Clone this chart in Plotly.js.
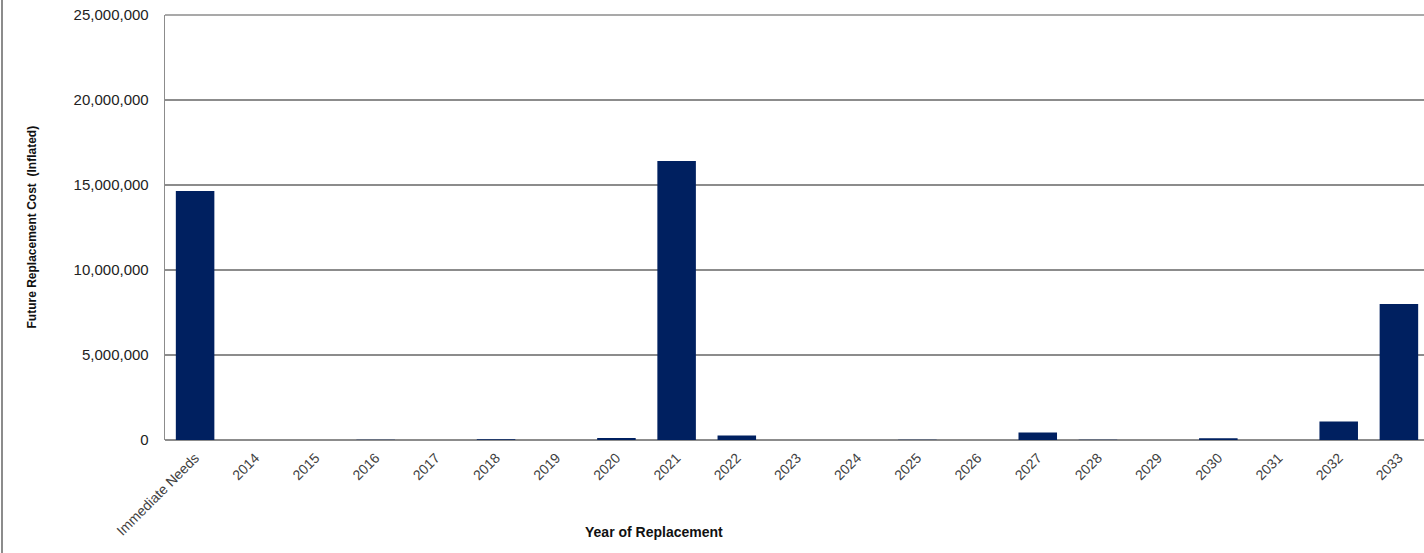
<!DOCTYPE html>
<html>
<head>
<meta charset="utf-8">
<script src="https://cdn.plot.ly/plotly-3.0.1.min.js"></script>
<style>
html,body{margin:0;padding:0;background:#fff;overflow:hidden;}
#chart{width:1430px;height:553px;}
</style>
</head>
<body>
<div id="chart"></div>
<script>
const categories = ["Immediate Needs","2014","2015","2016","2017","2018","2019","2020","2021","2022","2023","2024","2025","2026","2027","2028","2029","2030","2031","2032","2033"];
const costs = [14650000,0,0,20000,0,50000,0,120000,16410000,265000,0,0,20000,0,440000,20000,0,110000,0,1090000,8000000];
const yTicks = [0,5000000,10000000,15000000,20000000,25000000];
const yTickText = ["0","5,000,000","10,000,000","15,000,000","20,000,000","25,000,000"];

const trace = {
  type: "bar",
  x: categories,
  y: costs,
  marker: {color: "#002060"},
  hoverinfo: "x+y"
};

const layout = {
  width: 1430,
  height: 553,
  margin: {l: 165, r: 1, t: 15, b: 113},
  paper_bgcolor: "#ffffff",
  plot_bgcolor: "#ffffff",
  showlegend: false,
  bargap: 0.36,
  font: {family: "Liberation Sans, Arial, sans-serif", color: "#222"},
  xaxis: {
    type: "category",
    tickangle: -45,
    tickfont: {size: 14, color: "#404040"},
    ticklabelstandoff: 6,
    showgrid: false,
    showline: false,
    ticks: "",
    zeroline: false
  },
  yaxis: {
    range: [0, 25000000],
    tickvals: yTicks,
    ticktext: yTickText,
    tickfont: {size: 15, color: "#222"},
    showgrid: true,
    gridcolor: "#8c8c8c",
    gridwidth: 1.3,
    zeroline: true,
    zerolinecolor: "#8c8c8c",
    zerolinewidth: 1.5,
    showline: true,
    linecolor: "#8c8c8c",
    linewidth: 1.3,
    ticks: "",
    ticklabelstandoff: 12,
    title: {text: ""}
  },
  annotations: [
    {
      text: "<b>Future Replacement Cost  (Inflated)</b>",
      xref: "paper", yref: "paper",
      x: (31 - 165) / 1264, y: 0.5,
      xanchor: "center", yanchor: "middle",
      textangle: -90,
      showarrow: false,
      font: {size: 12, color: "#111", family: "Liberation Sans, Arial, sans-serif"}
    },
    {
      text: "<b>Year of Replacement</b>",
      xref: "paper", yref: "paper",
      x: (654 - 165) / 1264, y: -(532 - 440) / 425,
      xanchor: "center", yanchor: "middle",
      showarrow: false,
      font: {size: 14, color: "#111", family: "Liberation Sans, Arial, sans-serif"}
    }
  ],
  shapes: [
    {
      type: "line", xref: "paper", yref: "paper",
      x0: (2 - 165) / 1264, x1: (2 - 165) / 1264,
      y0: -113 / 425, y1: 1 + 15 / 425,
      line: {color: "#8c8c8c", width: 2}
    },
    {
      type: "line", xref: "paper", yref: "paper",
      x0: 0, x1: 1, y0: 1, y1: 1,
      line: {color: "#8c8c8c", width: 1.3}
    }
  ]
};

Plotly.newPlot("chart", [trace], layout, {displayModeBar: false, staticPlot: true});
</script>
</body>
</html>
